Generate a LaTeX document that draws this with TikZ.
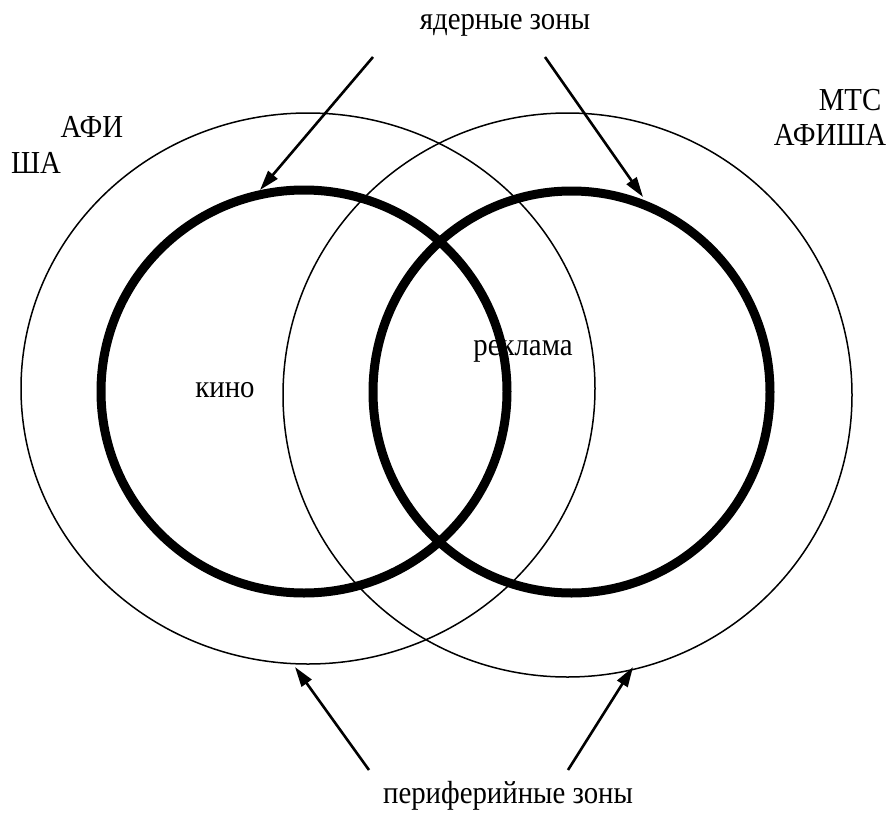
\documentclass[tikz,border=0pt]{standalone}
\usepackage{fontspec}
\setmainfont[FakeStretch=0.9]{Liberation Serif}
\usetikzlibrary{arrows.meta,shapes.geometric}
\begin{document}
\begin{tikzpicture}[x=1pt,y=-1pt,
  thinring/.style={draw=black,ellipse,line width=1.5pt,inner sep=0pt,outer sep=0pt},
  thickring/.style={draw=black,ellipse,line width=9pt,inner sep=0pt,outer sep=0pt},
  arr/.style={draw=black,line width=2.6pt,-{Triangle[length=20pt,width=12pt]}},
  lbl/.style={anchor=base,inner sep=0pt,font=\fontsize{32}{38}\selectfont}]
\useasboundingbox (0,0) rectangle (892,814);
\fill[white] (0,0) rectangle (892,814);
% peripheral zones
\node[thinring,minimum width=574pt,minimum height=551pt] (periL) at (308,388.5) {};
\node[thinring,minimum width=569pt,minimum height=564pt] (periR) at (567.5,395) {};
% core zones
\node[thickring,minimum width=406pt,minimum height=403pt] (coreL) at (304,391.5) {};
\node[thickring,minimum width=397pt,minimum height=402pt] (coreR) at (571.5,392) {};
% labels
\node[lbl] (nuc) at (505,29) {ядерные зоны};
\node[lbl] (per) at (508,803) {периферийные зоны};
\node[lbl] (afiA) at (92,137) {АФИ};
\node[lbl] (afiB) at (36,173) {ША};
\node[lbl] (mts) at (850,110) {МТС};
\node[lbl] (afisha) at (830,145) {АФИША};
\node[lbl] (kino) at (225,397) {кино};
\node[lbl] (rekl) at (523,355) {реклама};
% arrows
\coordinate (s1) at (373,57);
\coordinate (t1) at (260,190);
\coordinate (s2) at (545,57);
\coordinate (t2) at (643,197);
\coordinate (s3) at (369,770);
\coordinate (t3) at (295,667);
\coordinate (s4) at (568,770);
\coordinate (t4) at (633,667);
\draw[arr] (s1) -- (t1);
\draw[arr] (s2) -- (t2);
\draw[arr] (s3) -- (t3);
\draw[arr] (s4) -- (t4);
\end{tikzpicture}
\end{document}
